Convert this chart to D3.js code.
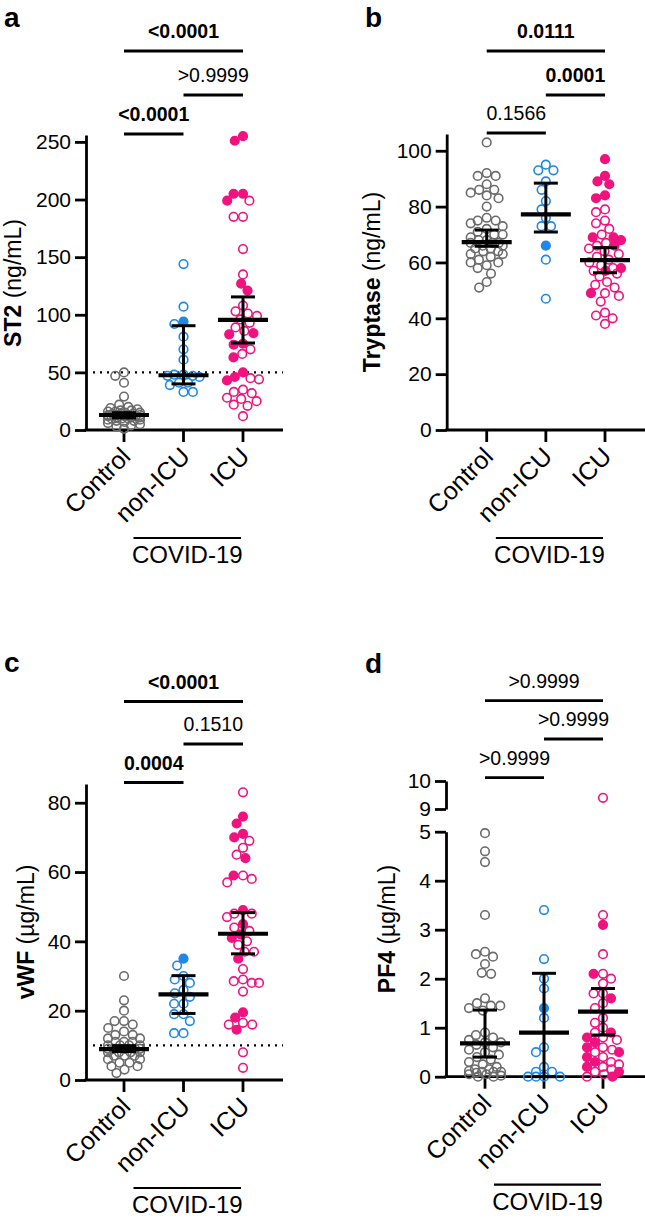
<!DOCTYPE html>
<html><head><meta charset="utf-8">
<script src="https://cdn.jsdelivr.net/npm/d3@7"></script>
<style>
body{margin:0;background:#fff}
svg{display:block}
text{font-family:"Liberation Sans",Arial,Helvetica,sans-serif;fill:#000}
</style>
</head><body>
<svg id="chart" width="645" height="1219"></svg>
<script>
// ---------------- DATA ----------------
const categories = ["Control", "non-ICU", "ICU"];
const groupLabel = "COVID-19";
const comparisons = [[0, 2], [1, 2], [0, 1]];

// Panel a: ST2 (ng/mL)
const st2Control = [50, 47, 41, 29, 22, 20, 19, 18, 17, 17, 16, 16, 15, 15, 14, 14, 14, 13, 13, 13, 13, 12, 12, 12, 11, 11, 11, 10, 10, 10, 9, 9, 8, 8, 7, 6, 5, 4, 3, 1];
const st2NonIcuOpen = [144, 107, 92, 81, 70, 61, 48, 48, 47, 47, 46, 41, 41, 39, 33, 33];
const st2NonIcuFilled = [94];
const st2IcuOpen = [199, 185, 185, 157, 135, 108, 103, 101, 99, 96, 93, 89, 86, 70, 66, 45, 44, 35, 33, 32, 28, 27, 25, 22, 21, 12];
const st2IcuFilled = [255, 251, 205, 205, 199, 127, 121, 84, 83, 75, 74, 63, 50, 46, 43];
const st2Median = [13, 47.5, 95.5];
const st2Low = [10.5, 40, 75.5];
const st2High = [15, 90.5, 115.5];
const st2Ticks = [0, 50, 100, 150, 200, 250];
const st2P = ["<0.0001", ">0.9999", "<0.0001"];
const st2PBold = [true, false, true];
const st2Threshold = 50;

// Panel b: Tryptase (ng/mL)
const tryControl = [103, 92, 91, 91, 88, 86, 86, 85, 84, 83, 80, 76, 75, 75, 74, 73, 72, 71, 70, 70, 69, 68, 68, 67, 67, 67, 66, 66, 65, 65, 64, 64, 63, 63, 62, 61, 60, 60, 59, 58, 56, 53, 51];
const tryNonIcuOpen = [95, 93, 93, 89, 86, 82, 79, 76, 73, 73, 61, 47];
const tryNonIcuFilled = [66];
const tryIcuOpen = [79, 78, 75, 74, 72, 70, 67, 66, 65, 64, 63, 62, 61, 60, 59, 58, 57, 56, 55, 53, 52, 51, 49, 48, 46, 42, 41, 40, 38];
const tryIcuFilled = [97, 91, 89, 88, 84, 83, 69, 69, 68, 66, 58, 57, 49];
const tryMedian = [67.3, 77.2, 60.8];
const tryLow = [65.8, 70.9, 56.3];
const tryHigh = [71.6, 88.4, 65.3];
const tryTicks = [0, 20, 40, 60, 80, 100];
const tryP = ["0.0111", "0.0001", "0.1566"];
const tryPBold = [true, true, false];

// Panel c: vWF (µg/mL)
const vwfControl = [30, 23, 20, 17, 17, 16, 15, 14, 13, 13, 12, 12, 11, 11, 11, 10, 10, 10, 10, 9, 9, 9, 9, 9, 8, 8, 8, 8, 7, 7, 7, 6, 6, 5, 5, 4, 4, 3, 2];
const vwfNonIcuOpen = [33, 30, 29, 28, 26, 25, 24, 22, 22, 19, 19, 17, 13.5, 13.5];
const vwfNonIcuFilled = [35];
const vwfIcuOpen = [83, 69, 67, 65, 59, 58, 57, 48, 48, 47, 44, 43, 40, 39, 37, 37, 32, 29, 28.5, 28, 28, 25.5, 16.5, 16, 16, 8, 3.5];
const vwfIcuFilled = [76, 74, 71, 70, 64, 59, 49, 45, 42, 41, 35, 19.5, 18, 14.5];
const vwfMedian = [8.9, 24.7, 42.2];
const vwfLow = [8.2, 19.2, 36.4];
const vwfHigh = [9.9, 30.1, 48.3];
const vwfTicks = [0, 20, 40, 60, 80];
const vwfP = ["<0.0001", "0.1510", "0.0004"];
const vwfPBold = [true, false, true];
const vwfThreshold = 10;

// Panel d: PF4 (µg/mL), broken axis 5 | 9
const pf4Control = [4.97, 4.6, 4.38, 3.3, 2.55, 2.5, 2.45, 2.3, 2.12, 2.1, 1.6, 1.5, 1.45, 1.45, 1.4, 1.35, 0.9, 0.85, 0.8, 0.75, 0.7, 0.7, 0.65, 0.6, 0.55, 0.5, 0.45, 0.4, 0.35, 0.3, 0.25, 0.2, 0.15, 0.15, 0.12, 0.1, 0.1, 0.1, 0.08, 0.05, 0.05, 0.02, 0, 0];
const pf4NonIcuOpen = [3.4, 2.4, 2.0, 1.8, 1.2, 0.6, 0.5, 0.2, 0.1, 0.1, 0, 0, 0, 0];
const pf4NonIcuFilled = [1.4];
const pf4IcuOpen = [9.4, 3.3, 2.5, 2.1, 2.0, 1.9, 1.7, 1.7, 1.5, 1.4, 1.2, 1.1, 1.0, 0.9, 0.8, 0.75, 0.6, 0.55, 0.5, 0.4, 0.3, 0.25, 0.2, 0.15, 0.1, 0.05, 0];
const pf4IcuFilled = [3.1, 2.1, 1.6, 0.9, 0.8, 0.7, 0.6, 0.5, 0.4, 0.3, 0.2, 0.1, 0];
const pf4Median = [0.68, 0.9, 1.33];
const pf4Low = [0.4, 0, 0.85];
const pf4High = [1.36, 2.11, 1.8];
const pf4TicksLow = [0, 1, 2, 3, 4, 5];
const pf4TicksHigh = [9, 10];
const pf4P = [">0.9999", ">0.9999", ">0.9999"];
const pf4PBold = [false, false, false];

// ---------------- STYLE ----------------
const colors = ["#6b6b6b", "#1f87e8", "#f0127f"];
const R = 4.3, STROKE = 1.6, DIAM = 9.4, MAXOFF = 16;
const AXW = 2.8;

const svg = d3.select("#chart");
svg.append("rect").attr("width", 645).attr("height", 1219).attr("fill", "#fff");

function swarm(vals, yfn, maxOff) {
  const pts = vals.map(v => ({ v: v.v, filled: v.filled, py: yfn(v.v) }));
  pts.sort((a, b) => a.py - b.py);
  const placed = [];
  for (const p of pts) {
    const cands = [0];
    for (const q of placed) {
      const dy = Math.abs(q.py - p.py);
      if (dy < DIAM) {
        const dx = Math.sqrt(DIAM * DIAM - dy * dy);
        cands.push(q.dx + dx + 0.01, q.dx - dx - 0.01);
      }
    }
    cands.sort((a, b) => Math.abs(a) - Math.abs(b) || a - b);
    let best = null;
    for (const c of cands) {
      if (Math.abs(c) > maxOff) continue;
      if (placed.every(q => (q.dx - c) ** 2 + (q.py - p.py) ** 2 >= DIAM * DIAM - 0.1)) { best = c; break; }
    }
    if (best === null) {
      let bestScore = Infinity;
      for (let c = -maxOff; c <= maxOff + 1e-9; c += 0.5) {
        let s = 0;
        for (const q of placed) {
          const d = Math.hypot(q.dx - c, q.py - p.py);
          if (d < DIAM) s += (DIAM - d) ** 2;
        }
        s += 0.01 * Math.abs(c);
        if (s < bestScore) { bestScore = s; best = c; }
      }
    }
    p.dx = best;
    placed.push(p);
  }
  return pts;
}

function drawPanel(cfg) {
  const g = svg.append("g");
  const x = d3.scalePoint().domain(categories).range(cfg.xRange);
  const yfn = cfg.yfn;

  // panel letter
  g.append("text").attr("x", cfg.letterPos[0]).attr("y", cfg.letterPos[1])
    .attr("font-size", 28).attr("font-weight", "bold").text(cfg.letter);

  // y axes
  cfg.yAxes.forEach(ya => {
    const ax = g.append("g").attr("transform", `translate(${cfg.axisX},0)`)
      .call(d3.axisLeft(ya.scale).tickValues(ya.ticks).tickSize(11).tickPadding(4).tickSizeOuter(0).tickFormat(d3.format("d")));
    ax.select(".domain").attr("stroke-width", AXW).attr("stroke", "#000");
    ax.selectAll(".tick line").attr("stroke-width", AXW).attr("stroke", "#000");
    ax.selectAll(".tick text").attr("font-size", 21).attr("font-family", "Liberation Sans, Arial, sans-serif").attr("fill", "#000");
  });

  // x axis
  g.append("line").attr("x1", cfg.axisX - AXW / 2).attr("x2", cfg.xEnd)
    .attr("y1", cfg.y0).attr("y2", cfg.y0).attr("stroke", "#000").attr("stroke-width", AXW);
  categories.forEach(c => {
    g.append("line").attr("x1", x(c)).attr("x2", x(c)).attr("y1", cfg.y0).attr("y2", cfg.y0 + 12)
      .attr("stroke", "#000").attr("stroke-width", AXW);
    g.append("text").attr("transform", `translate(${x(c) + 8},${cfg.y0 + 28}) rotate(-45)`)
      .attr("text-anchor", "end").attr("font-size", 25).text(c);
  });

  // COVID-19 group line
  const gx1 = x(categories[1]) - 50, gx2 = x(categories[2]) - 2;
  g.append("line").attr("x1", gx1).attr("x2", gx2).attr("y1", cfg.y0 + 108).attr("y2", cfg.y0 + 108)
    .attr("stroke", "#000").attr("stroke-width", 2.2);
  g.append("text").attr("x", (gx1 + gx2) / 2).attr("y", cfg.y0 + 133).attr("text-anchor", "middle")
    .attr("font-size", 24).text(groupLabel);

  // y title
  const t = g.append("text").attr("transform", `translate(${cfg.titleX},${cfg.titleY}) rotate(-90)`)
    .attr("text-anchor", "middle").attr("font-size", 23);
  t.append("tspan").attr("font-weight", "bold").text(cfg.titleBold);
  t.append("tspan").text(" " + cfg.titleUnit);

  // threshold dotted line
  if (cfg.threshold != null) {
    g.append("line").attr("x1", cfg.axisX + 7).attr("x2", cfg.xEnd)
      .attr("y1", yfn(cfg.threshold)).attr("y2", yfn(cfg.threshold))
      .attr("stroke", "#000").attr("stroke-width", 2.2).attr("stroke-dasharray", "2,5");
  }

  // points
  cfg.groups.forEach((grp, i) => {
    const vals = grp.open.map(v => ({ v, filled: false })).concat(grp.filled.map(v => ({ v, filled: true })));
    const pts = swarm(vals, yfn, MAXOFF);
    g.selectAll(null).data(pts).enter().append("circle")
      .attr("cx", d => x(categories[i]) + d.dx).attr("cy", d => d.py).attr("r", R)
      .attr("fill", d => d.filled ? colors[i] : "none")
      .attr("stroke", colors[i]).attr("stroke-width", STROKE);
  });

  // median + error bars
  categories.forEach((c, i) => {
    const cx = x(c);
    const lo = yfn(cfg.low[i]), hi = yfn(cfg.high[i]), md = yfn(cfg.median[i]);
    g.append("line").attr("x1", cx).attr("x2", cx).attr("y1", lo).attr("y2", hi).attr("stroke", "#000").attr("stroke-width", 3);
    [lo, hi].forEach(yy => g.append("line").attr("x1", cx - 12).attr("x2", cx + 12).attr("y1", yy).attr("y2", yy).attr("stroke", "#000").attr("stroke-width", 3));
    g.append("line").attr("x1", cx - 25).attr("x2", cx + 25).attr("y1", md).attr("y2", md).attr("stroke", "#000").attr("stroke-width", 4.2);
  });

  // significance brackets
  comparisons.forEach((pair, k) => {
    const x1 = x(categories[pair[0]]), x2 = x(categories[pair[1]]);
    const by = cfg.bracketY[k];
    g.append("line").attr("x1", x1).attr("x2", x2).attr("y1", by).attr("y2", by).attr("stroke", "#000").attr("stroke-width", AXW);
    g.append("text").attr("x", (x1 + x2) / 2).attr("y", by - 13).attr("text-anchor", "middle")
      .attr("font-size", 19.5).attr("font-weight", cfg.pBold[k] ? "bold" : "normal").text(cfg.p[k]);
  });
}

// ---- panel a
const yA = d3.scaleLinear().domain([0, 256]).range([430, 135]);
drawPanel({
  letter: "a", letterPos: [4, 27], axisX: 86, xEnd: 283, xRange: [124, 243], y0: 430,
  yfn: v => yA(v), yAxes: [{ scale: yA, ticks: st2Ticks }],
  titleX: 21, titleY: 283, titleBold: "ST2", titleUnit: "(ng/mL)", threshold: st2Threshold,
  groups: [{ open: st2Control, filled: [] }, { open: st2NonIcuOpen, filled: st2NonIcuFilled }, { open: st2IcuOpen, filled: st2IcuFilled }],
  median: st2Median, low: st2Low, high: st2High,
  bracketY: [51, 95, 134], p: st2P, pBold: st2PBold
});

// ---- panel b
const yB = d3.scaleLinear().domain([0, 106]).range([430, 134]);
drawPanel({
  letter: "b", letterPos: [365, 27], axisX: 446.7, xEnd: 645, xRange: [486.7, 605], y0: 430,
  yfn: v => yB(v), yAxes: [{ scale: yB, ticks: tryTicks }],
  titleX: 380, titleY: 282, titleBold: "Tryptase", titleUnit: "(ng/mL)", threshold: null,
  groups: [{ open: tryControl, filled: [] }, { open: tryNonIcuOpen, filled: tryNonIcuFilled }, { open: tryIcuOpen, filled: tryIcuFilled }],
  median: tryMedian, low: tryLow, high: tryHigh,
  bracketY: [51, 95, 133], p: tryP, pBold: tryPBold
});

// ---- panel c
const yC = d3.scaleLinear().domain([0, 85.4]).range([1080, 784]);
drawPanel({
  letter: "c", letterPos: [4, 672], axisX: 86, xEnd: 283, xRange: [124, 243], y0: 1080,
  yfn: v => yC(v), yAxes: [{ scale: yC, ticks: vwfTicks }],
  titleX: 34, titleY: 932, titleBold: "vWF", titleUnit: "(\u00b5g/mL)", threshold: vwfThreshold,
  groups: [{ open: vwfControl, filled: [] }, { open: vwfNonIcuOpen, filled: vwfNonIcuFilled }, { open: vwfIcuOpen, filled: vwfIcuFilled }],
  median: vwfMedian, low: vwfLow, high: vwfHigh,
  bracketY: [701.5, 744, 782.5], p: vwfP, pBold: vwfPBold
});

// ---- panel d (broken axis)
const yDlow = d3.scaleLinear().domain([0, 5]).range([1076.7, 831.7]);
const yDhigh = d3.scaleLinear().domain([9, 10]).range([809, 781]);
drawPanel({
  letter: "d", letterPos: [365, 673], axisX: 446, xEnd: 645, xRange: [485, 603], y0: 1076.7,
  yfn: v => v > 5 ? yDhigh(v) : yDlow(v),
  yAxes: [{ scale: yDlow, ticks: pf4TicksLow }, { scale: yDhigh, ticks: pf4TicksHigh }],
  titleX: 395, titleY: 929, titleBold: "PF4", titleUnit: "(\u00b5g/mL)", threshold: null,
  groups: [{ open: pf4Control, filled: [] }, { open: pf4NonIcuOpen, filled: pf4NonIcuFilled }, { open: pf4IcuOpen, filled: pf4IcuFilled }],
  median: pf4Median, low: pf4Low, high: pf4High,
  bracketY: [700.7, 739, 777.7], p: pf4P, pBold: pf4PBold
});
</script>
</body></html>
